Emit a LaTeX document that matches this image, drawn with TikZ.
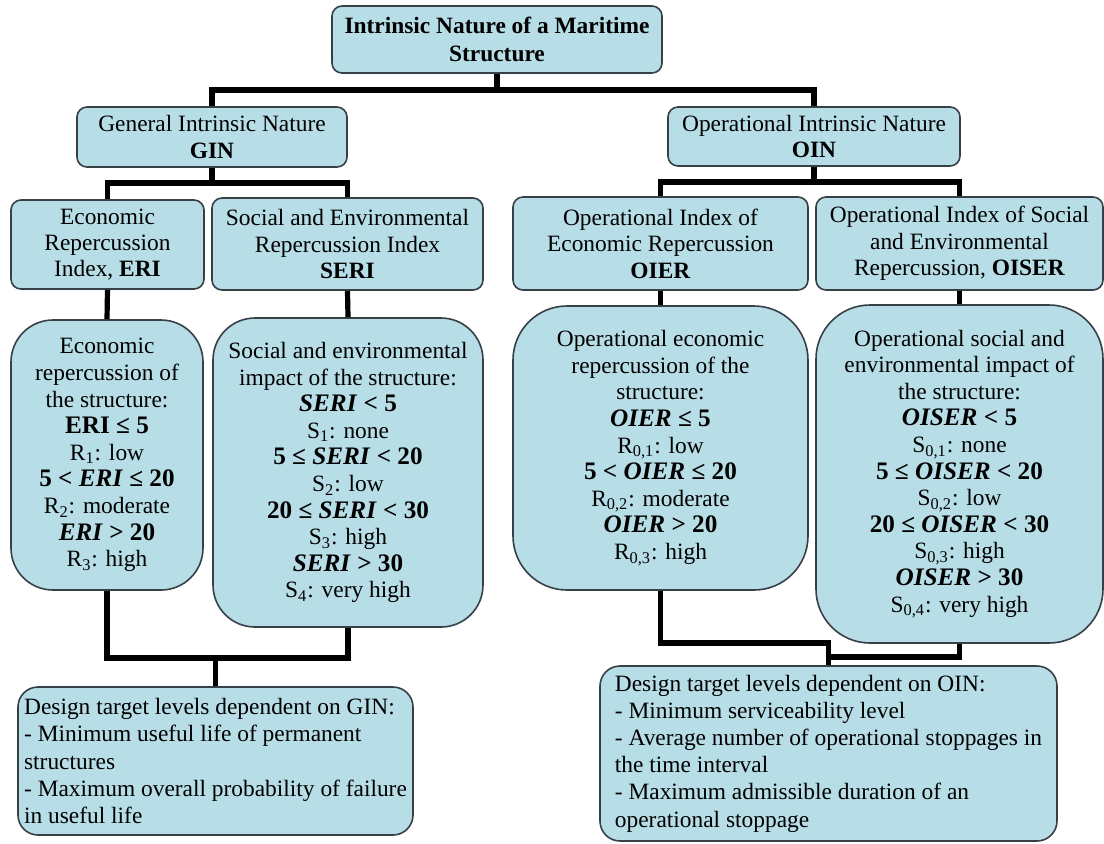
\documentclass[tikz,border=0pt]{standalone}
\usepackage{fontspec}
\setmainfont{Liberation Serif}
\definecolor{boxfill}{rgb}{0.718,0.867,0.902}
\definecolor{boxline}{rgb}{0.22,0.25,0.28}
\newcommand{\bfit}[1]{\textbf{\textit{#1}}}
\newcommand{\critline}[1]{{\fontsize{12.6}{13.3}\selectfont\bfseries #1}}

\begin{document}
\begin{tikzpicture}[line cap=round,line join=round,x=0.5pt,y=-0.5pt,
  head/.style={draw=boxline,fill=boxfill,line width=0.8pt,rounded corners=5pt,align=center,inner sep=2pt,font=\fontsize{11.7}{13.2}\selectfont},
  info/.style={head,font=\fontsize{11.7}{13.3}\selectfont},
  conn/.style={line width=2.6pt,line cap=butt,line join=miter}]
\useasboundingbox (0,0) rectangle (1104,843);

\node[head,font=\fontsize{11.7}{14}\selectfont\bfseries,minimum width=165pt,minimum height=33.5pt] (top) at (497,39.5) {Intrinsic Nature of a Maritime\\Structure};
\node[head,minimum width=135pt,minimum height=30pt] (gin) at (212,137) {General Intrinsic Nature\\\textbf{GIN}};
\node[head,minimum width=146pt,minimum height=29.5pt] (oin) at (814,136.5) {Operational Intrinsic Nature\\\textbf{OIN}};

\node[head,minimum width=96.5pt,minimum height=44.5pt] (eri) at (107.5,244.5) {Economic\\Repercussion\\Index, \textbf{ERI}};
\node[head,minimum width=135.5pt,minimum height=46pt] (seri) at (347.5,244) {Social and Environmental\\Repercussion Index\\\textbf{SERI}};
\node[head,minimum width=147.5pt,minimum height=46.5pt] (oier) at (660.5,243.5) {Operational Index of\\Economic Repercussion\\\textbf{OIER}};
\node[head,minimum width=143.5pt,minimum height=46.5pt] (oiser) at (959.5,243.5) {Operational Index of Social\\and Environmental\\Repercussion, \textbf{OISER}};

\node[info,rounded corners=21pt,minimum width=96pt,minimum height=135pt] (erid) at (107,455) {Economic\\repercussion of\\the structure:\\\critline{ERI ≤ 5}\\R\textsubscript{1}: low\\\critline{5 < \textit{ERI} ≤ 20}\\R\textsubscript{2}: moderate\\\critline{\textit{ERI} > 20}\\R\textsubscript{3}: high};
\node[info,rounded corners=21pt,minimum width=135pt,minimum height=154.5pt] (serid) at (348,472.5) {Social and environmental\\impact of the structure:\\\critline{\textit{SERI} < 5}\\S\textsubscript{1}: none\\\critline{5 ≤ \textit{SERI} < 20}\\S\textsubscript{2}: low\\\critline{20 ≤ \textit{SERI} < 30}\\S\textsubscript{3}: high\\\critline{\textit{SERI} > 30}\\S\textsubscript{4}: very high};
\node[info,rounded corners=27pt,minimum width=147.5pt,minimum height=142pt] (oierd) at (660.5,448) {Operational economic\\repercussion of the\\structure:\\\critline{\textit{OIER} ≤ 5}\\R\textsubscript{0,1}: low\\\critline{5 < \textit{OIER} ≤ 20}\\R\textsubscript{0,2}: moderate\\\critline{\textit{OIER} > 20}\\R\textsubscript{0,3}: high};
\node[info,rounded corners=27pt,minimum width=143.5pt,minimum height=169pt] (oiserd) at (959.5,474) {Operational social and\\environmental impact of\\the structure:\\\critline{\textit{OISER} < 5}\\S\textsubscript{0,1}: none\\\critline{5 ≤ \textit{OISER} < 20}\\S\textsubscript{0,2}: low\\\critline{20 ≤ \textit{OISER} < 30}\\S\textsubscript{0,3}: high\\\critline{\textit{OISER} > 30}\\S\textsubscript{0,4}: very high};

\node[info,align=left,rounded corners=10pt,minimum width=197.5pt,minimum height=74pt,font=\fontsize{11.7}{13.6}\selectfont] (botl) at (215.5,761) {Design target levels dependent on GIN:\\- Minimum useful life of permanent\\structures\\- Maximum overall probability of failure\\in useful life};
\node[info,align=left,rounded corners=10pt,minimum width=228.5pt,minimum height=87.5pt,font=\fontsize{11.7}{13.6}\selectfont] (botr) at (828.5,753.5) {Design target levels dependent on OIN:\\- Minimum serviceability level\\- Average number of operational stoppages in\\the time interval\\- Maximum admissible duration of an\\operational stoppage};

\coordinate (busa) at (0,90);
\coordinate (busb) at (0,183);
\coordinate (busc) at (0,182);
\coordinate (busd) at (0,658);
\coordinate (buse) at (0,643);
\coordinate (busf) at (0,657);

\draw[conn] (top.south) -- (top.south |- busa);
\draw[conn] (gin.north) |- (oin.north |- busa) -- (oin.north);
\draw[conn] (gin.south) -- (gin.south |- busb);
\draw[conn] (eri.north) |- (seri.north |- busb) -- (seri.north);
\draw[conn] (oin.south) -- (oin.south |- busc);
\draw[conn] (oier.north) |- (oiser.north |- busc) -- (oiser.north);
\draw[conn] (eri.south) -- (erid.north);
\draw[conn] (seri.south) -- (serid.north);
\draw[conn] (oier.south) -- (oierd.north);
\draw[conn] (oiser.south) -- (oiserd.north);
\draw[conn] (erid.south) |- (serid.south |- busd) -- (serid.south);
\draw[conn] (botl.north) -- (botl.north |- busd);
\draw[conn] (oierd.south) |- (botr.north |- buse) -- (botr.north);
\draw[conn] (oiserd.south) |- (botr.north |- busf);
\end{tikzpicture}
\end{document}
